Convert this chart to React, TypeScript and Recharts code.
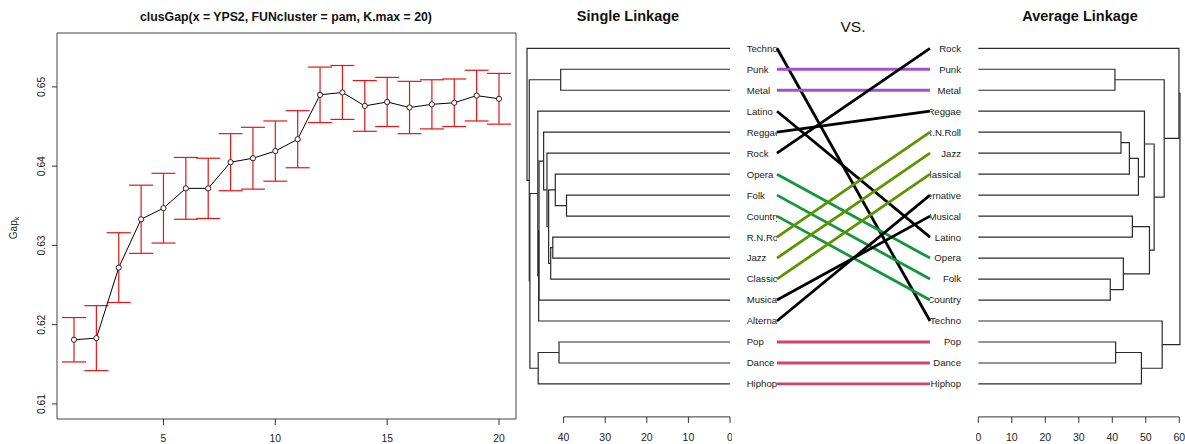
import React from 'react';
import {
  LineChart,
  Line,
  XAxis,
  YAxis,
  ErrorBar,
  ReferenceArea,
  ReferenceLine,
  ScatterChart,
  Scatter,
} from 'recharts';

// ---------- Gap statistic panel ----------
const K_VALUES = [1, 2, 3, 4, 5, 6, 7, 8, 9, 10, 11, 12, 13, 14, 15, 16, 17, 18, 19, 20];
const GAP_VALUES = [
  0.6181, 0.6183, 0.6272, 0.6333, 0.6347, 0.6372, 0.6372, 0.6405, 0.641, 0.6419,
  0.6434, 0.649, 0.6493, 0.6476, 0.6481, 0.6474, 0.6478, 0.648, 0.6489, 0.6485,
];
const GAP_SE = [
  0.0028, 0.0041, 0.0044, 0.0043, 0.0044, 0.0039, 0.0038, 0.0036, 0.0039, 0.0038,
  0.0036, 0.0035, 0.0034, 0.0032, 0.0031, 0.0033, 0.0031, 0.003, 0.0032, 0.0032,
];
const GAP_X_TICKS = [5, 10, 15, 20];
const GAP_Y_TICKS = [0.61, 0.62, 0.63, 0.64, 0.65];
const GAP_X_DOMAIN: [number, number] = [0.24, 20.76];
const GAP_Y_DOMAIN: [number, number] = [0.6081, 0.6568];

// ---------- Tanglegram ----------
const SINGLE_ORDER = [
  'Techno', 'Punk', 'Metal', 'Latino', 'Reggae', 'Rock', 'Opera', 'Folk', 'Country',
  'R.N.Roll', 'Jazz', 'Classical', 'Musical', 'Alternative', 'Pop', 'Dance', 'Hiphop',
];
// [childA, childB, height]; strings are leaves, numbers are 1-based earlier merges
const SINGLE_MERGES: [string | number, string | number, number][] = [
  ['Folk', 'Country', 39.3],
  ['Punk', 'Metal', 40.7],
  ['Pop', 'Dance', 41.1],
  ['Opera', 1, 42.0],
  ['R.N.Roll', 'Jazz', 42.6],
  [5, 'Classical', 43.1],
  [4, 6, 43.6],
  ['Rock', 7, 44.0],
  ['Reggae', 8, 44.8],
  [9, 'Musical', 45.9],
  [10, 'Alternative', 46.0],
  [3, 'Hiphop', 46.1],
  ['Latino', 11, 46.2],
  [13, 12, 48.1],
  [2, 14, 48.25],
  ['Techno', 15, 48.8],
];

const AVERAGE_ORDER = [
  'Rock', 'Punk', 'Metal', 'Reggae', 'R.N.Roll', 'Jazz', 'Classical', 'Alternative', 'Musical',
  'Latino', 'Opera', 'Folk', 'Country', 'Techno', 'Pop', 'Dance', 'Hiphop',
];
const AVERAGE_MERGES: [string | number, string | number, number][] = [
  ['Folk', 'Country', 39.4],
  ['Punk', 'Metal', 40.8],
  ['Pop', 'Dance', 41.0],
  ['R.N.Roll', 'Jazz', 42.6],
  ['Opera', 1, 43.3],
  [4, 'Classical', 45.1],
  ['Musical', 'Latino', 46.0],
  [6, 'Alternative', 47.8],
  [3, 'Hiphop', 48.7],
  ['Reggae', 8, 49.6],
  [7, 5, 51.1],
  [10, 11, 52.5],
  ['Techno', 9, 54.9],
  [2, 12, 55.5],
  ['Rock', 14, 59.9],
  [15, 13, 60.2],
];

const PURPLE = '#A24FD0';
const GREEN = '#14963C';
const OLIVE = '#5A9600';
const PINK = '#D2426C';
const BLACK = '#000000';
// aligned with SINGLE_ORDER
const CONNECTOR_COLORS = [
  BLACK, PURPLE, PURPLE, BLACK, BLACK, BLACK, GREEN, GREEN, GREEN,
  OLIVE, OLIVE, OLIVE, BLACK, BLACK, PINK, PINK, PINK,
];

const SINGLE_TICKS = [0, 10, 20, 30, 40];
const AVERAGE_TICKS = [0, 10, 20, 30, 40, 50, 60];
const LEAF_ROWS = SINGLE_ORDER.map((_, i) => i + 1);
const ROW_DOMAIN: [number, number] = [0, 18.57];

const FONT = '"Liberation Sans", Arial, Helvetica, sans-serif';
const TEXT_COLOR = '#222';
const DENDRO_STROKE = '#2a2a2a';

type Pt = { x: number; y: number };

function buildSegments(order: string[], merges: [string | number, string | number, number][]): Pt[][] {
  const nodes: { h: number; pos: number }[] = [];
  const get = (ref: string | number) =>
    typeof ref === 'string' ? { h: 0, pos: order.indexOf(ref) + 1 } : nodes[ref - 1];
  return merges.map(([a, b, h]) => {
    const A = get(a);
    const B = get(b);
    nodes.push({ h, pos: (A.pos + B.pos) / 2 });
    return [
      { x: A.h, y: A.pos },
      { x: h, y: A.pos },
      { x: h, y: B.pos },
      { x: B.h, y: B.pos },
    ];
  });
}

const gapData = K_VALUES.map((k, i) => ({ k, gap: GAP_VALUES[i], se: GAP_SE[i] }));
const singleSegments = buildSegments(SINGLE_ORDER, SINGLE_MERGES);
const averageSegments = buildSegments(AVERAGE_ORDER, AVERAGE_MERGES);
const connectors = SINGLE_ORDER.map((name, i) => ({
  color: CONNECTOR_COLORS[i],
  points: [
    { x: 0, y: i + 1 },
    { x: 1, y: AVERAGE_ORDER.indexOf(name) + 1 },
  ],
}));

const NoShape = () => <g />;

const GapXTick = (props: any) => {
  const { x, y, payload } = props;
  return (
    <text x={x} y={y + 15} textAnchor="middle" fontSize={10.3} fill={TEXT_COLOR} fontFamily={FONT}>
      {payload.value}
    </text>
  );
};

const GapYTick = (props: any) => {
  const { x, y, payload } = props;
  const tx = x - 5;
  return (
    <text
      x={tx}
      y={y}
      transform={`rotate(-90 ${tx} ${y})`}
      textAnchor="middle"
      fontSize={10.3}
      fill={TEXT_COLOR}
      fontFamily={FONT}
    >
      {payload.value.toFixed(2)}
    </text>
  );
};

const DendroXTick = (props: any) => {
  const { x, y, payload } = props;
  return (
    <text x={x} y={y + 16} textAnchor="middle" fontSize={10.5} fill={TEXT_COLOR} fontFamily={FONT}>
      {payload.value}
    </text>
  );
};

const LeftLeafTick = (props: any) => {
  const { x, y, payload } = props;
  const id = `lclip-${payload.value}`;
  return (
    <g>
      <defs>
        <clipPath id={id}>
          <rect x={x - 40} y={y - 10} width={40} height={20} />
        </clipPath>
      </defs>
      <text
        x={x - 30.3}
        y={y + 3.4}
        textAnchor="start"
        fontSize={9.6}
        fill={TEXT_COLOR}
        fontFamily={FONT}
        clipPath={`url(#${id})`}
      >
        {SINGLE_ORDER[payload.value - 1]}
      </text>
    </g>
  );
};

const RightLeafTick = (props: any) => {
  const { x, y, payload } = props;
  const id = `rclip-${payload.value}`;
  return (
    <g>
      <defs>
        <clipPath id={id}>
          <rect x={x} y={y - 10} width={45} height={20} />
        </clipPath>
      </defs>
      <text
        x={x + 31}
        y={y + 3.4}
        textAnchor="end"
        fontSize={9.6}
        fill={TEXT_COLOR}
        fontFamily={FONT}
        clipPath={`url(#${id})`}
      >
        {AVERAGE_ORDER[payload.value - 1]}
      </text>
    </g>
  );
};

export default function App() {
  return (
    <div
      style={{
        position: 'absolute',
        left: 0,
        top: 0,
        width: 1185,
        height: 444,
        background: '#fff',
        overflow: 'hidden',
        fontFamily: FONT,
      }}
    >
      {/* Gap statistic */}
      <div style={{ position: 'absolute', left: 0, top: 0 }}>
        <LineChart width={530} height={444} data={gapData} margin={{ top: 33, right: 14, bottom: 0, left: 0 }}>
          <XAxis
            dataKey="k"
            type="number"
            domain={GAP_X_DOMAIN}
            ticks={GAP_X_TICKS}
            interval={0}
            height={25}
            axisLine={false}
            tickSize={6}
            stroke="#333"
            tick={<GapXTick />}
            allowDataOverflow
          />
          <YAxis
            type="number"
            domain={GAP_Y_DOMAIN}
            ticks={GAP_Y_TICKS}
            interval={0}
            width={57}
            axisLine={false}
            tickSize={5}
            stroke="#333"
            tick={<GapYTick />}
            allowDataOverflow
          />
          <ReferenceArea
            x1={GAP_X_DOMAIN[0]}
            x2={GAP_X_DOMAIN[1]}
            y1={GAP_Y_DOMAIN[0]}
            y2={GAP_Y_DOMAIN[1]}
            fill="none"
            fillOpacity={0}
            stroke="#444"
            strokeWidth={1}
            ifOverflow="visible"
          />
          <Line
            dataKey="gap"
            stroke="#000"
            strokeWidth={1}
            dot={{ r: 2.6, stroke: '#222', strokeWidth: 1, fill: '#fff' }}
            isAnimationActive={false}
          >
            <ErrorBar dataKey="se" width={12} stroke="#e81414" strokeWidth={1.2} direction="y" />
          </Line>
        </LineChart>
      </div>

      {/* Single linkage dendrogram */}
      <div style={{ position: 'absolute', left: 520, top: 0 }}>
        <ScatterChart width={212} height={444} margin={{ top: 27.3, right: 2, bottom: 0, left: 2 }}>
          <XAxis
            dataKey="x"
            type="number"
            domain={[0, 50]}
            reversed
            ticks={SINGLE_TICKS}
            interval={0}
            height={27.1}
            axisLine={false}
            tickSize={6}
            stroke="#333"
            tick={<DendroXTick />}
          />
          <YAxis dataKey="y" type="number" domain={ROW_DOMAIN} reversed hide />
          <ReferenceLine
            segment={[
              { x: SINGLE_TICKS[0], y: ROW_DOMAIN[1] },
              { x: SINGLE_TICKS[SINGLE_TICKS.length - 1], y: ROW_DOMAIN[1] },
            ]}
            stroke="#333"
            strokeWidth={1}
            ifOverflow="visible"
          />
          {singleSegments.map((seg, i) => (
            <Scatter
              key={`s${i}`}
              data={seg}
              line={{ stroke: DENDRO_STROKE, strokeWidth: 1.2 }}
              shape={NoShape}
              isAnimationActive={false}
            />
          ))}
        </ScatterChart>
      </div>

      {/* Connectors and labels */}
      <div style={{ position: 'absolute', left: 735, top: 0 }}>
        <ScatterChart width={240} height={444} margin={{ top: 27.3, right: 0, bottom: 27.1, left: 0 }}>
          <XAxis dataKey="x" type="number" domain={[0, 1]} hide />
          <YAxis
            yAxisId="L"
            dataKey="y"
            type="number"
            domain={ROW_DOMAIN}
            reversed
            ticks={LEAF_ROWS}
            interval={0}
            width={42}
            axisLine={false}
            tickLine={false}
            tickSize={0}
            tickMargin={0}
            tick={<LeftLeafTick />}
          />
          <YAxis
            yAxisId="R"
            orientation="right"
            dataKey="y"
            type="number"
            domain={ROW_DOMAIN}
            reversed
            ticks={LEAF_ROWS}
            interval={0}
            width={45}
            axisLine={false}
            tickLine={false}
            tickSize={0}
            tickMargin={0}
            tick={<RightLeafTick />}
          />
          <Scatter
            yAxisId="R"
            data={AVERAGE_ORDER.map((_, i) => ({ x: 1, y: i + 1 }))}
            shape={NoShape}
            isAnimationActive={false}
          />
          {connectors.map((c, i) => (
            <Scatter
              key={`c${i}`}
              yAxisId="L"
              data={c.points}
              fill={c.color}
              line={{ stroke: c.color, strokeWidth: 2.8 }}
              shape={NoShape}
              isAnimationActive={false}
            />
          ))}
        </ScatterChart>
      </div>

      {/* Average linkage dendrogram */}
      <div style={{ position: 'absolute', left: 976, top: 0 }}>
        <ScatterChart width={209} height={444} margin={{ top: 27.3, right: 0.7, bottom: 0, left: 2.3 }}>
          <XAxis
            dataKey="x"
            type="number"
            domain={[0, 61.5]}
            ticks={AVERAGE_TICKS}
            interval={0}
            height={27.1}
            axisLine={false}
            tickSize={6}
            stroke="#333"
            tick={<DendroXTick />}
          />
          <YAxis dataKey="y" type="number" domain={ROW_DOMAIN} reversed hide />
          <ReferenceLine
            segment={[
              { x: AVERAGE_TICKS[0], y: ROW_DOMAIN[1] },
              { x: AVERAGE_TICKS[AVERAGE_TICKS.length - 1], y: ROW_DOMAIN[1] },
            ]}
            stroke="#333"
            strokeWidth={1}
            ifOverflow="visible"
          />
          {averageSegments.map((seg, i) => (
            <Scatter
              key={`a${i}`}
              data={seg}
              line={{ stroke: DENDRO_STROKE, strokeWidth: 1.2 }}
              shape={NoShape}
              isAnimationActive={false}
            />
          ))}
        </ScatterChart>
      </div>

      {/* Titles */}
      <svg
        width={1185}
        height={444}
        style={{ position: 'absolute', left: 0, top: 0, pointerEvents: 'none' }}
        fontFamily={FONT}
      >
        <text x={286} y={21} textAnchor="middle" fontSize={12.3} fontWeight="bold" fill="#111">
          clusGap(x = YPS2, FUNcluster = pam, K.max = 20)
        </text>
        <text
          x={17}
          y={228}
          transform="rotate(-90 17 228)"
          textAnchor="middle"
          fontSize={10}
          fill={TEXT_COLOR}
        >
          Gap
          <tspan fontSize={7} dy={2}>
            k
          </tspan>
        </text>
        <text x={628} y={21} textAnchor="middle" fontSize={14.5} fontWeight="bold" fill="#111">
          Single Linkage
        </text>
        <text x={853} y={31.5} textAnchor="middle" fontSize={15.5} fill="#111">
          VS.
        </text>
        <text x={1080} y={21} textAnchor="middle" fontSize={14.5} fontWeight="bold" fill="#111">
          Average Linkage
        </text>
      </svg>
    </div>
  );
}
